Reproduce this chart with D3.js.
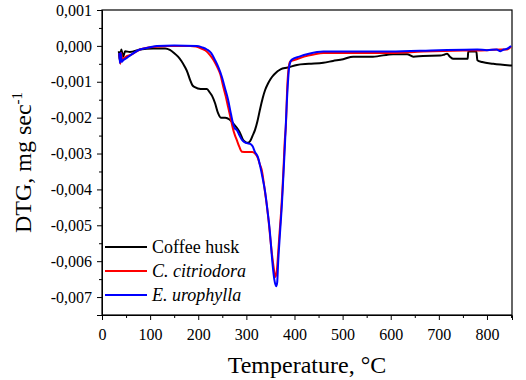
<!DOCTYPE html>
<html>
<head>
<meta charset="utf-8">
<script src="https://cdn.jsdelivr.net/npm/d3@7"></script>
<style>
  body { margin: 0; background: #fff; }
  text { font-family: "Liberation Serif", "Times New Roman", serif; fill: #000; }
</style>
</head>
<body>
<div id="chart"></div>
<script>
// temperature (°C) and DTG (mg/s)
const huskT = [35, 37, 40, 44, 48, 58, 79, 106, 131, 141, 150, 158, 165, 172, 178, 183, 188, 193, 205, 218, 224, 229, 235, 241, 247, 256, 265, 272, 281, 287, 293, 298, 303, 308, 313, 318, 323, 328, 334, 339, 345, 350, 356, 362, 368, 375, 384, 405, 430, 460, 480, 501, 522, 563, 605, 634, 647, 667, 703, 712, 717, 723, 730, 760, 761, 778, 780, 790, 813, 852];
const huskV = [-0.00015, -0.0004, -0.0001, -0.0003, -0.00015, -0.00017, -0.0001, -0.00007, -0.00007, -0.00011, -0.0002, -0.0003, -0.00042, -0.00058, -0.00075, -0.00095, -0.0011, -0.00115, -0.0012, -0.0012, -0.0013, -0.0014, -0.0016, -0.00187, -0.002, -0.002, -0.00205, -0.00215, -0.0023, -0.00243, -0.00262, -0.00268, -0.0027, -0.00265, -0.0025, -0.00234, -0.0021, -0.00179, -0.00145, -0.00123, -0.00105, -0.00093, -0.00082, -0.00074, -0.00068, -0.00063, -0.00061, -0.00053, -0.0005, -0.00047, -0.00042, -0.00037, -0.0003, -0.0003, -0.00023, -0.00023, -0.0003, -0.00028, -0.00027, -0.00024, -0.00022, -0.0003, -0.00036, -0.00036, -0.00016, -0.00016, -0.0004, -0.00045, -0.0005, -0.00055];

const citriT = [36, 38, 40, 42, 45, 50, 60, 79, 100, 114, 140, 183, 195, 204, 215, 224, 232, 239, 246, 252, 257, 262, 267, 272, 276, 280, 285, 291, 300, 312, 318, 324, 328, 332, 336, 339, 343, 346, 350, 353, 357, 360, 363, 366, 369, 372, 375, 377, 380, 382, 385, 388, 391, 401, 420, 440, 460, 520, 599, 667, 750, 800, 830, 842, 850];
const citriV = [-0.0002, -0.0005, -0.0002, -0.0004, -0.00035, -0.0003, -0.00025, -0.0001, -0.00004, -0.00002, 0, 0, -0.00002, -0.00006, -0.00013, -0.00025, -0.0004, -0.00058, -0.0008, -0.00114, -0.0014, -0.0017, -0.002, -0.0023, -0.00248, -0.00262, -0.0028, -0.00295, -0.00296, -0.00296, -0.003, -0.00313, -0.0033, -0.00346, -0.0038, -0.0041, -0.0045, -0.00485, -0.0054, -0.00578, -0.0062, -0.00644, -0.0063, -0.00578, -0.0052, -0.00466, -0.004, -0.00346, -0.0026, -0.00225, -0.00114, -0.0006, -0.00044, -0.00039, -0.0003, -0.00024, -0.0002, -0.0002, -0.0002, -0.00016, -0.00013, -0.00012, -0.0001, -0.0001, -0.00002];

const urophT = [36, 37, 39, 41, 44, 50, 60, 79, 100, 114, 150, 197, 208, 218, 227, 235, 242, 249, 256, 262, 268, 272, 276, 280, 286, 291, 296, 301, 308, 313, 318, 324, 329, 334, 339, 344, 349, 352, 355, 358, 362, 364, 366, 370, 374, 377, 380, 384, 387, 389, 394, 410, 430, 460, 599, 700, 780, 800, 820, 828, 835, 842, 850];
const urophV = [-0.0002, -0.00048, -0.0002, -0.00045, -0.0004, -0.00035, -0.00025, -0.0001, -0.00004, 0, 0.00001, 0, -0.00004, -0.0001, -0.0002, -0.0004, -0.0006, -0.00086, -0.0012, -0.0015, -0.0019, -0.00215, -0.0023, -0.00234, -0.0025, -0.00262, -0.00268, -0.00271, -0.00273, -0.0028, -0.00296, -0.0031, -0.00337, -0.0037, -0.00407, -0.0046, -0.0052, -0.0057, -0.00616, -0.0065, -0.0067, -0.0066, -0.00605, -0.0052, -0.00438, -0.0036, -0.0028, -0.0016, -0.0009, -0.00058, -0.00039, -0.0003, -0.00022, -0.00016, -0.00016, -0.00012, -0.0001, -0.00012, -0.0001, -0.00015, -0.0001, -0.00008, 0];

const seriesNames = ["Coffee husk", "C. citriodora", "E. urophylla"];
const seriesColors = ["#000000", "#ff0000", "#0000ff"];
const xTicks = [0, 100, 200, 300, 400, 500, 600, 700, 800];
const yTicks = [0.001, 0, -0.001, -0.002, -0.003, -0.004, -0.005, -0.006, -0.007];

const serif = "'Liberation Serif', 'Times New Roman', serif";
const width = 526, height = 380;
const margin = {top: 10, right: 14, bottom: 65, left: 102};
const innerW = width - margin.left - margin.right;
const innerH = height - margin.top - margin.bottom;

const svg = d3.select("#chart").append("svg")
    .attr("width", width)
    .attr("height", height);

const chart = svg.append("g")
    .attr("transform", `translate(${margin.left},${margin.top})`);

const xScale = d3.scaleLinear().domain([0, 852]).range([0, innerW]);
const yScale = d3.scaleLinear().domain([-0.0075, 0.001]).range([innerH, 0]);

// minor ticks first, then majors with labels
chart.append("g")
    .attr("transform", `translate(0,${innerH})`)
    .call(d3.axisBottom(xScale).tickValues(d3.range(50, 851, 100)).tickSize(3).tickFormat(""))
    .call(g => g.select(".domain").remove());
chart.append("g")
    .call(d3.axisLeft(yScale).tickValues(d3.range(-7.5, 1, 1).map(d => d / 1000)).tickSize(3).tickFormat(""))
    .call(g => g.select(".domain").remove());

const xAxisG = chart.append("g")
    .attr("transform", `translate(0,${innerH})`)
    .call(d3.axisBottom(xScale).tickValues(xTicks).tickSize(5).tickPadding(5).tickFormat(d3.format("d")));
const yAxisG = chart.append("g")
    .call(d3.axisLeft(yScale).tickValues(yTicks).tickSize(5).tickPadding(5)
        .tickFormat(d => d3.format(".3f")(d).replace("−", "-").replace(".", ",")));

chart.selectAll(".tick line").attr("stroke", "#000");
[xAxisG, yAxisG].forEach(g => {
    g.attr("font-family", serif).attr("font-size", 16);
    g.selectAll("text")
        .attr("font-family", serif)
        .style("font-family", serif)
        .style("font-size", "16px");
});
xAxisG.selectAll("text").attr("dy", "0.95em");

// frame
chart.append("rect")
    .attr("width", innerW)
    .attr("height", innerH)
    .attr("fill", "none")
    .attr("stroke", "#000")
    .attr("stroke-width", 1.2);

const line = d3.line()
    .x(d => xScale(d[0]))
    .y(d => yScale(d[1]))
    .curve(d3.curveMonotoneX);

const seriesData = [
    d3.zip(huskT, huskV),
    d3.zip(citriT, citriV),
    d3.zip(urophT, urophV)
];

chart.selectAll(".series")
    .data(seriesData)
    .join("path")
    .attr("class", "series")
    .attr("fill", "none")
    .attr("stroke", (d, i) => seriesColors[i])
    .attr("stroke-width", 2)
    .attr("stroke-linejoin", "round")
    .attr("d", line);

// legend
const legend = svg.append("g").attr("transform", "translate(105,247)");
seriesNames.forEach((name, i) => {
    const row = legend.append("g").attr("transform", `translate(0,${i * 24})`);
    row.append("line")
        .attr("x1", 0).attr("x2", 42)
        .attr("stroke", seriesColors[i])
        .attr("stroke-width", 2.2);
    row.append("text")
        .attr("x", 47)
        .attr("dy", "0.35em")
        .style("font-size", "18px")
        .style("font-style", i === 0 ? "normal" : "italic")
        .text(name);
});

// axis titles
svg.append("text")
    .attr("x", margin.left + innerW / 2)
    .attr("y", 373)
    .attr("text-anchor", "middle")
    .style("font-size", "24px")
    .text("Temperature, °C");

const yTitle = svg.append("text")
    .attr("transform", `translate(31,${margin.top + innerH / 2}) rotate(-90)`)
    .attr("text-anchor", "middle")
    .style("font-size", "24px");
yTitle.append("tspan").text("DTG, mg sec");
yTitle.append("tspan")
    .attr("dy", "-0.6em")
    .style("font-size", "15px")
    .text("-1");
</script>
</body>
</html>
